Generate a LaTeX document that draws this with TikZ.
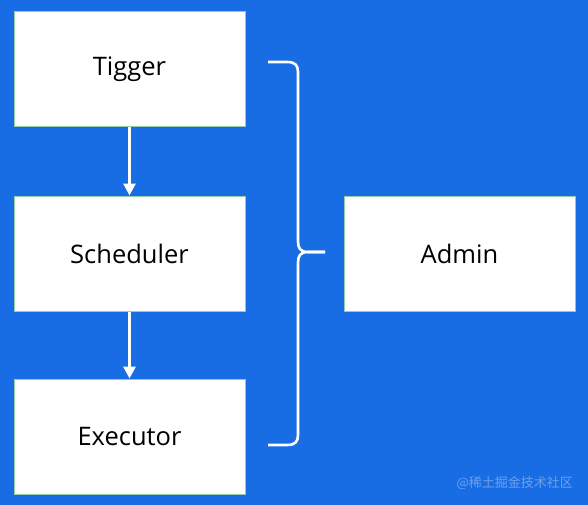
\documentclass[tikz,border=0pt]{standalone}
\usepackage{fontspec}
\setmainfont{Open Sans}
\newfontfamily\cjk{Noto Sans CJK SC}
\usetikzlibrary{arrows.meta}
\definecolor{bgblue}{RGB}{24,109,228}
\definecolor{boxline}{RGB}{150,205,165}
\definecolor{wm}{RGB}{110,160,235}
\tikzset{
  blockbox/.style={draw=boxline, line width=1pt, fill=white, minimum width=231pt, minimum height=115pt, inner sep=0pt, font=\fontsize{25.5}{30}\selectfont, text=black},
  flowarrow/.style={draw=white, line width=3pt, -{Triangle[width=12pt,length=12pt]}},
  bracepath/.style={draw=white, line width=2.6pt, line join=round}
}
\begin{document}
\begin{tikzpicture}[x=1pt,y=-1pt]
\fill[bgblue] (0,0) rectangle (588,505);
\useasboundingbox (0,0) rectangle (588,505);
\node[blockbox] (tigger) at (129.5,69.5) {Tigger};
\node[blockbox] (sched) at (129.5,253.5) {Scheduler};
\node[blockbox] (exec) at (129.5,436.5) {Executor};
\node[blockbox] (admin) at (459.5,253.5) {Admin};
\draw[flowarrow] (tigger.south) -- (sched.north);
\draw[flowarrow] (sched.south) -- (exec.north);
\coordinate (bt) at (268,62);
\coordinate (bm) at (325,252);
\coordinate (bb) at (268,445);
\draw[bracepath] (bt) -- (287,62) .. controls (295,62) and (298,65) .. (298,72) -- (298,241) .. controls (298,248) and (300,252) .. (308,252) -- (bm);
\draw[bracepath] (bm) -- (308,252) .. controls (300,252) and (298,256) .. (298,263) -- (298,435) .. controls (298,442) and (295,445) .. (287,445) -- (bb);
\node[text=wm, font=\cjk\fontsize{13}{15}\selectfont, anchor=east, inner sep=0pt] (mark) at (573,483) {@稀土掘金技术社区};
\end{tikzpicture}
\end{document}
